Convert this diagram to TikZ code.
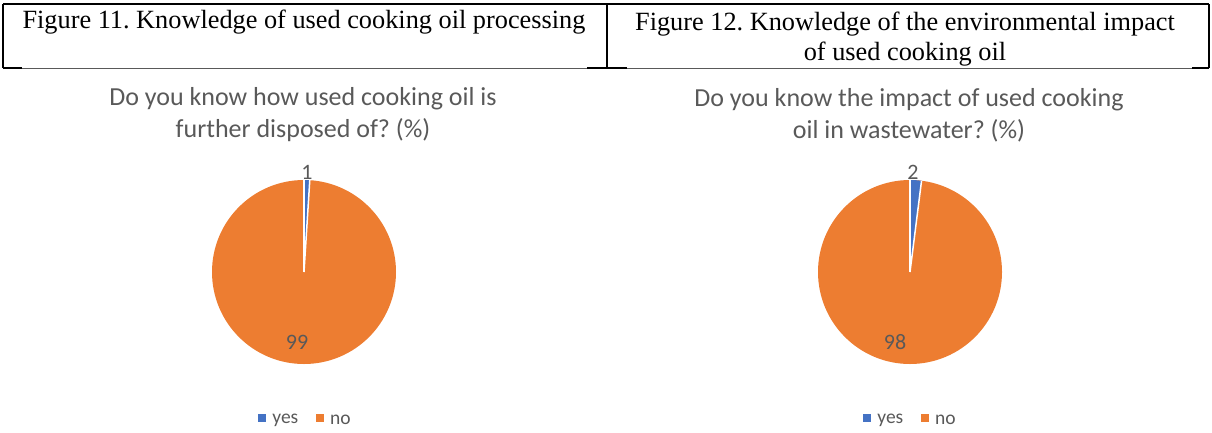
\documentclass[tikz,border=0pt]{standalone}
\usepackage{fontspec}
\setmainfont{Liberation Serif}
\newfontfamily\chartfont{Carlito}
\usetikzlibrary{positioning}
\definecolor{pieblue}{HTML}{4472C4}
\definecolor{pieorange}{HTML}{ED7D31}
\definecolor{chartgray}{HTML}{595959}
\frenchspacing

\begin{document}
\begin{tikzpicture}[x=1pt,y=1pt]
    \tikzstyle{every node}=[inner sep=0]
    \tikzstyle{caption}=[font=\fontsize{26.3}{30}\selectfont,align=center]
    \tikzstyle{title}=[font=\chartfont\fontsize{26}{32}\selectfont,text=chartgray,align=center]
    \tikzstyle{value}=[font=\chartfont\fontsize{22}{24}\selectfont,text=chartgray]
    \tikzstyle{key}=[font=\chartfont\fontsize{19.5}{22}\selectfont,text=chartgray]
    \tikzstyle{swatch}=[minimum size=8]
    \tikzstyle{rule}=[line width=1.5]
    \tikzstyle{cut}=[draw=white,line width=1.5]

    \useasboundingbox (0,0) rectangle (1212,-432);

    % caption table
    \draw[rule] (3,-4) -- (1209,-4);
    \foreach \x in {3,607,1209}
        \draw[rule] (\x,-4) -- (\x,-68);
    \draw[black!65,line width=0.8] (22,-68) -- (1192,-68);
    \foreach \a/\b in {3/22,587/627,1192/1209}
        \draw[rule] (\a,-68) -- (\b,-68);
    \node[caption] (capA) at (304,-22) {Figure 11. Knowledge of used cooking oil processing};
    \node[caption] (capB) at (905,-39) {Figure 12. Knowledge of the environmental impact\\of used cooking oil};

    % pies
    \coordinate (pieA) at (304,-272);
    \coordinate (pieB) at (910,-272);
    \foreach \p/\yes in {pieA/1,pieB/2} {
        \fill[pieorange] (\p) circle (92);
        \fill[pieblue] (\p) -- ++(90:92) arc[start angle=90,end angle={90-3.6*\yes},radius=92] -- cycle;
        \draw[cut] (\p) -- ++(90:92);
        \draw[cut] (\p) -- ++({90-3.6*\yes}:92);
    }

    \node[title] (titleA) at (303,-115) {Do you know how used cooking oil is\\further disposed of? (\%)};
    \node[title] (titleB) at (909,-115) {Do you know the impact of used cooking\\oil in wastewater? (\%)};

    \node[value] (yesA) at (307,-172) {1};
    \node[value] (noA) at (297,-342) {99};
    \node[value] (yesB) at (913,-172) {2};
    \node[value] (noB) at (895,-342) {98};

    % legends
    \node[swatch,fill=pieblue] (keyA1) at (262,-418) {};
    \node[key,right=6 of keyA1,yshift=-2] (yesKeyA) {yes};
    \node[swatch,fill=pieorange,right=17 of yesKeyA,yshift=2] (keyA2) {};
    \node[key,right=6 of keyA2,yshift=-2] (noKeyA) {no};
    \node[swatch,fill=pieblue] (keyB1) at (867,-418) {};
    \node[key,right=6 of keyB1,yshift=-2] (yesKeyB) {yes};
    \node[swatch,fill=pieorange,right=17 of yesKeyB,yshift=2] (keyB2) {};
    \node[key,right=6 of keyB2,yshift=-2] (noKeyB) {no};
\end{tikzpicture}
\end{document}
